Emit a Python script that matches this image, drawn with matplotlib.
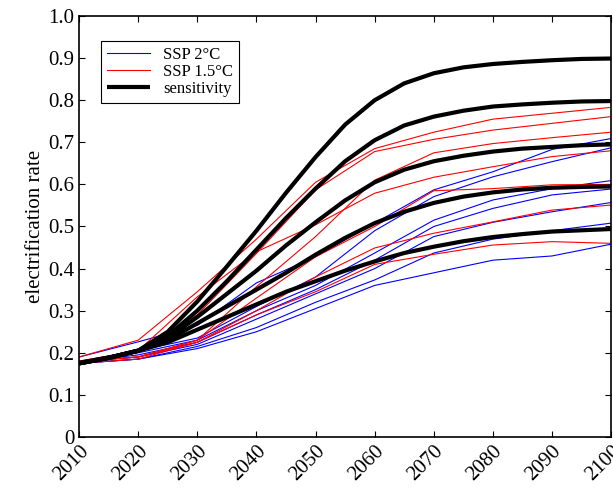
import matplotlib
matplotlib.use("Agg")
import matplotlib.pyplot as plt

plt.rcParams['font.family'] = ['Liberation Serif', 'DejaVu Serif']

# scenario years (SSP runs, one point per decade)
years = [2010, 2020, 2030, 2040, 2050, 2060, 2070, 2080, 2090, 2100]

ssp_2c = [
    [0.190, 0.226, 0.265, 0.366, 0.428, 0.508, 0.587, 0.630, 0.683, 0.709],
    [0.180, 0.205, 0.235, 0.310, 0.380, 0.490, 0.571, 0.618, 0.654, 0.687],
    [0.180, 0.200, 0.230, 0.300, 0.360, 0.437, 0.515, 0.563, 0.590, 0.609],
    [0.178, 0.195, 0.225, 0.290, 0.350, 0.420, 0.500, 0.543, 0.575, 0.589],
    [0.178, 0.190, 0.220, 0.280, 0.340, 0.400, 0.476, 0.510, 0.535, 0.557],
    [0.175, 0.185, 0.215, 0.260, 0.320, 0.373, 0.437, 0.470, 0.490, 0.508],
    [0.175, 0.185, 0.210, 0.250, 0.305, 0.360, 0.390, 0.420, 0.430, 0.458],
]

ssp_15c = [
    [0.190, 0.230, 0.345, 0.470, 0.605, 0.685, 0.724, 0.755, 0.769, 0.783],
    [0.180, 0.205, 0.290, 0.436, 0.587, 0.678, 0.707, 0.729, 0.745, 0.761],
    [0.180, 0.190, 0.230, 0.357, 0.476, 0.610, 0.675, 0.697, 0.711, 0.724],
    [0.180, 0.205, 0.333, 0.440, 0.504, 0.579, 0.617, 0.642, 0.666, 0.680],
    [0.180, 0.190, 0.230, 0.330, 0.428, 0.500, 0.585, 0.590, 0.599, 0.600],
    [0.180, 0.190, 0.225, 0.300, 0.380, 0.449, 0.484, 0.511, 0.539, 0.551],
    [0.175, 0.185, 0.225, 0.290, 0.345, 0.410, 0.434, 0.456, 0.464, 0.460],
]

# sensitivity curves, read every 5 years
sens_years = list(range(2010, 2101, 5))
sensitivity = [
    [0.175, 0.188, 0.205, 0.250, 0.322, 0.405, 0.490, 0.580, 0.665, 0.742,
     0.800, 0.840, 0.864, 0.878, 0.886, 0.891, 0.895, 0.898, 0.899],
    [0.175, 0.188, 0.205, 0.240, 0.300, 0.370, 0.445, 0.520, 0.590, 0.655,
     0.705, 0.740, 0.761, 0.775, 0.785, 0.790, 0.794, 0.797, 0.798],
    [0.175, 0.188, 0.205, 0.235, 0.285, 0.340, 0.395, 0.455, 0.510, 0.562,
     0.605, 0.635, 0.655, 0.668, 0.678, 0.685, 0.689, 0.693, 0.695],
    [0.175, 0.188, 0.205, 0.230, 0.270, 0.310, 0.350, 0.390, 0.433, 0.473,
     0.508, 0.535, 0.556, 0.571, 0.581, 0.588, 0.592, 0.594, 0.595],
    [0.175, 0.188, 0.205, 0.225, 0.255, 0.285, 0.315, 0.345, 0.370, 0.395,
     0.417, 0.437, 0.452, 0.465, 0.475, 0.482, 0.488, 0.491, 0.494],
]

fig = plt.figure(figsize=(6.13, 4.94), dpi=100)
ax = fig.add_axes([0.129, 0.1154, 0.868, 0.8522])

for i, s in enumerate(ssp_2c):
    ax.plot(years, s, color='blue', lw=0.8, label='SSP 2°C' if i == 0 else None)
for i, s in enumerate(ssp_15c):
    ax.plot(years, s, color='red', lw=0.8, label='SSP 1.5°C' if i == 0 else None)
for i, s in enumerate(sensitivity):
    ax.plot(sens_years, s, color='black', lw=3, solid_capstyle='butt',
            solid_joinstyle='round', label='sensitivity' if i == 0 else None)

ax.set_xlim(2010, 2100)
ax.set_ylim(0, 1)
ax.set_xticks(years)
ax.set_yticks([i / 10 for i in range(11)])
ax.set_yticklabels(['0'] + [f'{i / 10:.1f}' for i in range(1, 11)])
ax.tick_params(direction='in', top=True, right=True, labelsize=15, length=4)
plt.setp(ax.get_xticklabels(), rotation=45, ha='right', rotation_mode='anchor')
ax.set_ylabel('electrification rate', fontsize=15, labelpad=2)
for sp in ax.spines.values():
    sp.set_linewidth(1.2)

leg = ax.legend(loc='upper left', bbox_to_anchor=(0.025, 0.96), fontsize=12,
                fancybox=False, framealpha=1, edgecolor='black',
                handlelength=2.6, borderpad=0.35, labelspacing=0.05)
leg.get_frame().set_linewidth(0.8)

plt.savefig('out.png', dpi=100)
